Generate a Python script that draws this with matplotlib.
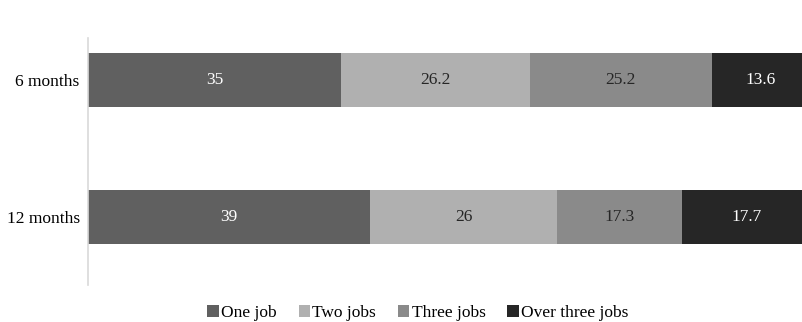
import matplotlib.pyplot as plt
import numpy as np

# data
periods = ['6 months', '12 months']
series = ['One job', 'Two jobs', 'Three jobs', 'Over three jobs']
one_job = [35, 39]
two_jobs = [26.2, 26]
three_jobs = [25.2, 17.3]
over_three = [13.6, 17.7]

colors = ['#606060', '#b0b0b0', '#8a8a8a', '#262626']
text_colors = ['white', '#262626', '#262626', 'white']

plt.rcParams['font.family'] = ['Liberation Serif', 'DejaVu Serif']

fig = plt.figure(figsize=(8.02, 3.22), dpi=100)
# axes runs a little past the right edge, like the original (clipped)
ax = fig.add_axes([88 / 802, 1 - 285 / 322, 722 / 802, 247 / 322])

y = np.arange(len(periods))
left = np.zeros(len(periods))
for vals, name, col, tcol in zip([one_job, two_jobs, three_jobs, over_three],
                                 series, colors, text_colors):
    bars = ax.barh(y, vals, left=left, height=0.40, color=col, label=name)
    ax.bar_label(bars, labels=[str(v) for v in vals], label_type='center',
                 color=tcol, fontsize=12.5)
    left += np.array(vals)

ax.set_xlim(0, 100)
ax.set_ylim(1.496, -0.307)
ax.set_yticks(y)
ax.set_yticklabels(periods, fontsize=12.5)
ax.tick_params(axis='y', length=0, pad=6)
ax.set_xticks([])
for s in ['top', 'right', 'bottom']:
    ax.spines[s].set_visible(False)
ax.spines['left'].set_color('#d9d9d9')
ax.spines['left'].set_linewidth(1.2)

fig.legend(loc='center', bbox_to_anchor=(418 / 802, 1 - 313 / 322), ncol=4,
           frameon=False, fontsize=12.5, handlelength=0.65, handleheight=0.65,
           handletextpad=0.15, columnspacing=1.25)

fig.savefig('out.png', dpi=100)
